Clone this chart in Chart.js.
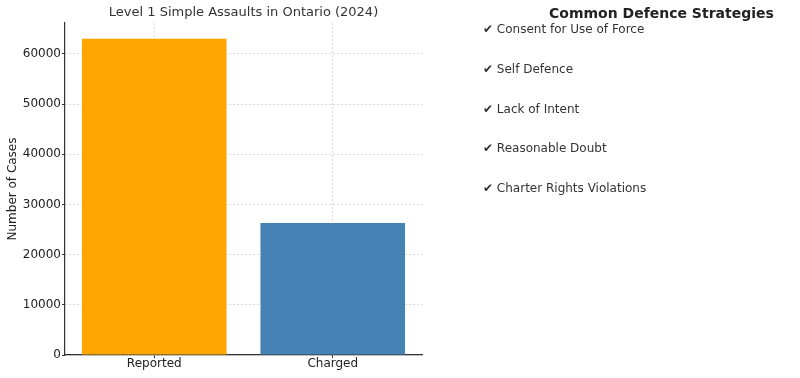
<!DOCTYPE html>
<html>
<head>
<meta charset="utf-8">
<script src="https://cdn.jsdelivr.net/npm/chart.js@4.4.1/dist/chart.umd.min.js"></script>
<style>
    html, body { margin: 0; padding: 0; background: #fff; }
    #wrap { position: relative; width: 800px; height: 378px; }
    #chart { position: absolute; left: 0; top: 0; }
    .side { position: absolute; font-family: "DejaVu Sans", sans-serif; color: #333; white-space: nowrap; }
    #side-title { left: 549px; top: 5px; font-size: 14px; font-weight: bold; color: #222; }
    .item { left: 483px; font-size: 12px; line-height: 16px; }
</style>
</head>
<body>
<div id="wrap">
    <canvas id="chart" width="800" height="378"></canvas>
    <div id="side-title" class="side">Common Defence Strategies</div>
    <div id="side-list"></div>
</div>
<script>
const categories = ['Reported', 'Charged'];
const caseCounts = [63000, 26300];
const barColors = ['#FFA500', '#4682B4'];
const yTicks = [0, 10000, 20000, 30000, 40000, 50000, 60000];
const strategies = [
    'Consent for Use of Force',
    'Self Defence',
    'Lack of Intent',
    'Reasonable Doubt',
    'Charter Rights Violations'
];

// lista de estrategias a la derecha
const list = document.getElementById('side-list');
strategies.forEach((s, i) => {
    const d = document.createElement('div');
    d.className = 'side item';
    d.style.top = (21 + i * 39.8) + 'px';
    d.textContent = '\u2714 ' + s;
    list.appendChild(d);
});

const font = { family: '"DejaVu Sans", sans-serif', size: 12 };
const gridStyle = {
    offset: false,
    color: 'rgba(176,176,176,0.6)',
    lineWidth: 0.8,
    tickColor: '#333',
    tickLength: 3,
    tickWidth: 1
};

new Chart(document.getElementById('chart'), {
    type: 'bar',
    data: {
        labels: categories,
        datasets: [{
            data: caseCounts,
            backgroundColor: barColors,
            borderWidth: 0,
            categoryPercentage: 0.81,
            barPercentage: 1
        }]
    },
    options: {
        responsive: false,
        animation: false,
        layout: { padding: { left: 0, right: 378, top: 0, bottom: 0 } },
        plugins: {
            legend: { display: false },
            tooltip: { enabled: false },
            title: {
                display: true,
                fullSize: false,
                text: 'Level 1 Simple Assaults in Ontario (2024)',
                color: '#333',
                font: { family: '"DejaVu Sans", sans-serif', size: 13, weight: 'normal' },
                padding: { top: 5, bottom: 2.4 }
            }
        },
        scales: {
            x: {
                z: 1,
                grid: gridStyle,
                border: { display: true, color: '#333', width: 1.2, dash: [2, 2] },
                ticks: { color: '#222', font: font, padding: -1 },
                afterFit: s => { s.height = 23; }
            },
            y: {
                z: 1,
                min: 0,
                max: 66150,
                grid: gridStyle,
                border: { display: true, color: '#333', width: 1.2, dash: [2, 2] },
                ticks: {
                    color: '#222',
                    font: font,
                    padding: 1,
                    stepSize: 10000,
                    includeBounds: false,
                    callback: v => String(v)
                },
                afterBuildTicks: s => { s.ticks = yTicks.map(v => ({ value: v })); },
                title: {
                    display: true,
                    text: 'Number of Cases',
                    color: '#222',
                    font: font,
                    padding: { top: 6, bottom: 0 }
                },
                afterFit: s => { s.width = 65; }
            }
        }
    }
});
</script>
</body>
</html>
